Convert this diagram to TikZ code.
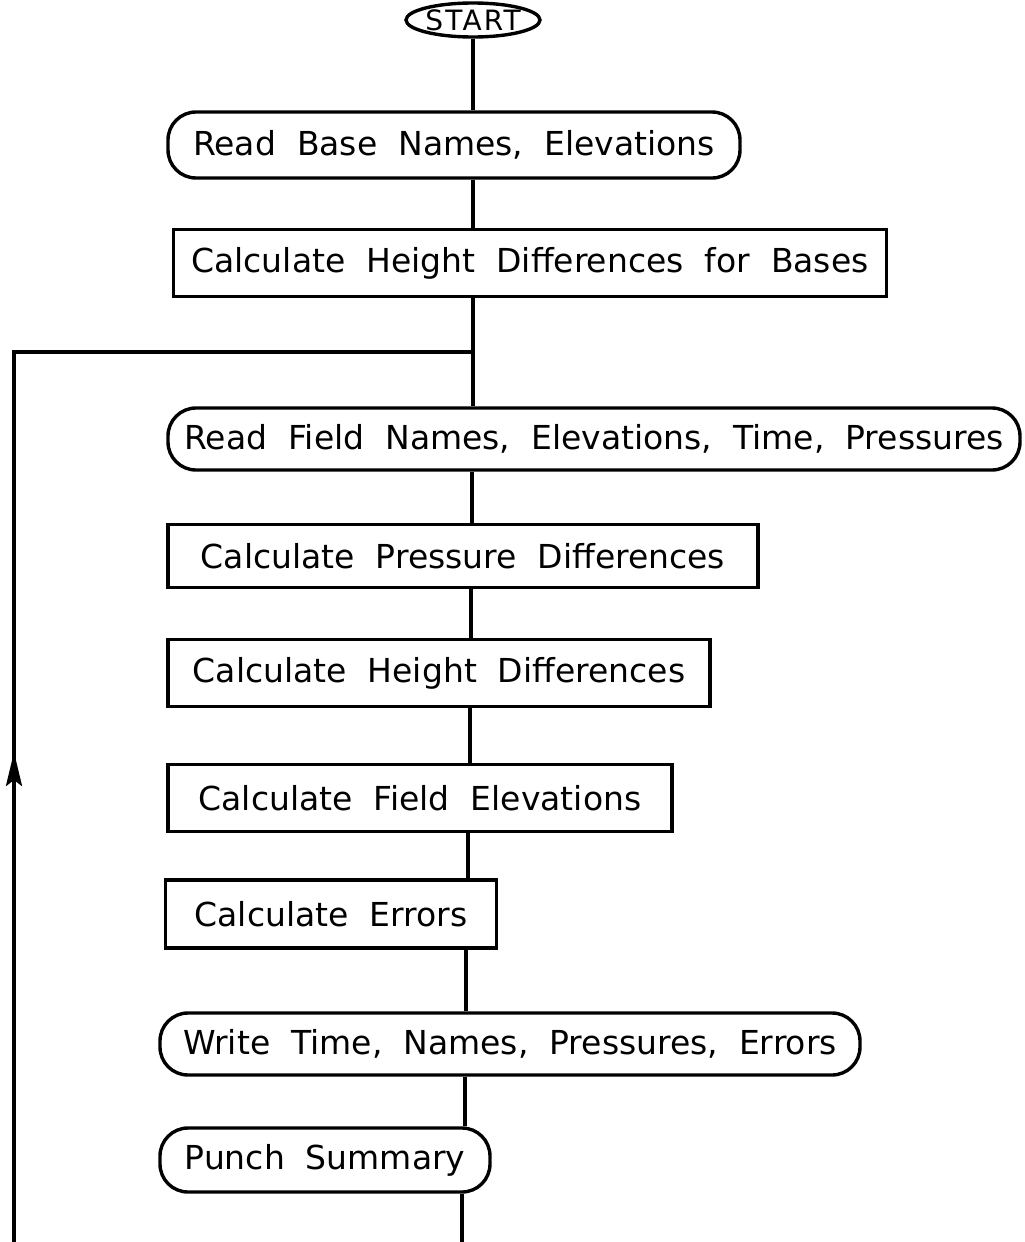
\documentclass[tikz,border=0pt]{standalone}
\usepackage{fontspec}
\setmainfont{DejaVu Sans}
\usetikzlibrary{arrows.meta,shapes.geometric}
\begin{document}
\begin{tikzpicture}[x=1pt,y=-1pt,
  lw/.style={line width=3.4pt},
  base/.style={draw,lw,font=\fontsize{33}{38}\selectfont,inner sep=0pt,anchor=center},
  procbox/.style={base,rectangle},
  iobox/.style={base,rounded corners=28pt},
  startbox/.style={base,ellipse,inner sep=-5pt,font=\fontsize{28}{30}\selectfont\addfontfeature{LetterSpace=8}}
]
\useasboundingbox (0,0) rectangle (1025,1242);
\node[startbox,minimum width=134pt,minimum height=34pt] (start) at (473,20) {START};
\node[iobox,minimum width=572pt,minimum height=66pt] (n1) at (454,145) {Read\ \ Base\ \ Names,\ \ Elevations};
\node[procbox,minimum width=713pt,minimum height=67pt] (n2) at (530,263) {Calculate\ \ Height\ \ Differences\ \ for\ \ Bases};
\node[iobox,minimum width=852pt,minimum height=62pt] (n3) at (594,439) {Read\ \ Field\ \ Names,\ \ Elevations,\ \ Time,\ \ Pressures};
\node[procbox,minimum width=590pt,minimum height=63pt] (n4) at (463,556) {Calculate\ \ Pressure\ \ Differences};
\node[procbox,minimum width=542pt,minimum height=67pt] (n5) at (439,673) {Calculate\ \ Height\ \ Differences};
\node[procbox,minimum width=504pt,minimum height=67pt] (n6) at (420,798) {Calculate\ \ Field\ \ Elevations};
\node[procbox,minimum width=331pt,minimum height=68pt] (n7) at (331,914) {Calculate\ \ Errors};
\node[iobox,minimum width=700pt,minimum height=62pt] (n8) at (510,1044) {Write\ \ Time,\ \ Names,\ \ Pressures,\ \ Errors};
\node[iobox,minimum width=330pt,minimum height=64pt] (n9) at (325,1160) {Punch\ \ Summary};
\coordinate (s1) at (473,0);
\coordinate (s2) at (472,0);
\coordinate (s3) at (471,0);
\coordinate (s4) at (470,0);
\coordinate (s5) at (468,0);
\coordinate (s6) at (466,0);
\coordinate (s7) at (465,0);
\coordinate (bm) at (462,1242);
\coordinate (bl) at (14,1242);
\coordinate (j) at (473,352);
\coordinate (tip) at (14,752);
\draw[lw] (start.south -| s1) -- (n1.north -| s1);
\draw[lw] (n1.south -| s1) -- (n2.north -| s1);
\draw[lw] (n2.south -| s1) -- (n3.north -| s1);
\draw[lw] (n3.south -| s2) -- (n4.north -| s2);
\draw[lw] (n4.south -| s3) -- (n5.north -| s3);
\draw[lw] (n5.south -| s4) -- (n6.north -| s4);
\draw[lw] (n6.south -| s5) -- (n7.north -| s5);
\draw[lw] (n7.south -| s6) -- (n8.north -| s6);
\draw[lw] (n8.south -| s7) -- (n9.north -| s7);
\draw[lw] (n9.south -| bm) -- (bm);
\draw[lw] (bl) -- (bl |- j) -- (j);
\draw[lw,-{Stealth[length=34pt,width=16pt,inset=6pt]}] (bl) -- (tip);
\end{tikzpicture}
\end{document}
